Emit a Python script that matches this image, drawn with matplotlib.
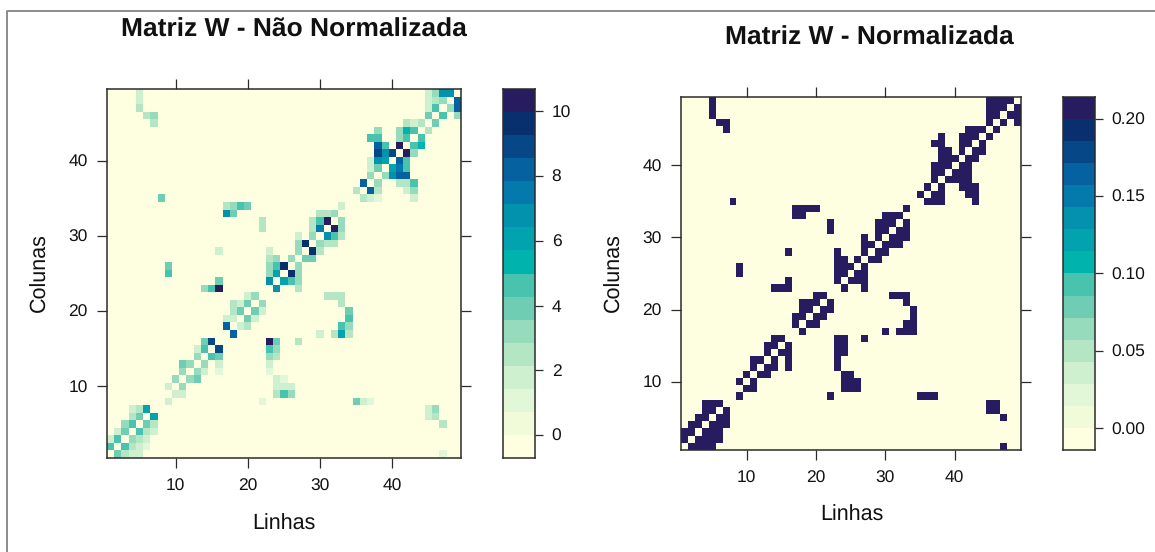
"""
Matriz W (vizinhos mais proximos) nao normalizada e normalizada
"""

import numpy as np
import matplotlib
matplotlib.use("Agg")
import matplotlib.pyplot as plt
from matplotlib.colors import ListedColormap, BoundaryNorm
from matplotlib.lines import Line2D

plt.rcParams["font.family"] = ["Liberation Sans", "DejaVu Sans"]
plt.rcParams["text.hinting"] = "none"

linhas = list(range(49, 0, -1))

colunas = [
    [5, 45, 46, 47, 48], [5, 45, 46, 47, 49], [5, 45, 46, 48, 49],
    [6, 7, 45, 47, 49], [7, 42, 43, 44, 46], [38, 41, 42, 43, 45],
    [37, 38, 41, 42, 44], [38, 39, 41, 43, 44], [38, 39, 40, 42, 43],
    [37, 38, 39, 41, 42], [37, 38, 40, 41, 42], [37, 39, 40, 41, 42],
    [36, 38, 41, 42, 43], [35, 37, 38, 42, 43], [8, 36, 37, 38, 43],
    [17, 18, 19, 20, 33], [17, 18, 30, 31, 32], [22, 29, 30, 31, 33],
    [22, 29, 30, 32, 33], [27, 29, 31, 32, 33], [27, 28, 30, 31, 32],
    [16, 23, 27, 29, 30], [23, 24, 26, 28, 29], [9, 23, 24, 25, 27],
    [9, 23, 24, 26, 27], [16, 23, 25, 26, 27], [14, 15, 16, 24, 27],
    [20, 21, 31, 32, 33], [18, 19, 20, 22, 33], [18, 19, 21, 22, 34],
    [17, 18, 20, 21, 34], [17, 19, 20, 33, 34], [18, 30, 32, 33, 34],
    [14, 15, 23, 24, 27], [13, 14, 16, 23, 24], [13, 15, 16, 23, 24],
    [11, 12, 14, 16, 23], [11, 13, 14, 16, 23], [10, 12, 13, 24, 25],
    [9, 11, 24, 25, 26], [10, 11, 24, 25, 26], [9, 22, 35, 36, 37],
    [4, 5, 6, 45, 46], [4, 5, 7, 45, 46], [3, 4, 6, 7, 47],
    [2, 3, 5, 6, 7], [1, 2, 4, 5, 6], [1, 3, 4, 5, 6], [2, 3, 4, 5, 47],
]

pesos = [
    [2, 1.8, 3, 7, 7], [2, 1.8, 2.5, 3, 8], [2.7, 1.8, 4.7, 3, 8],
    [2.5, 3, 4, 4.7, 3], [2.5, 2.5, 2, 2.7, 4], [3.5, 3, 5.5, 4.7, 2.5],
    [4.7, 4.7, 3, 4.7, 4.7], [8, 4.5, 10, 4.7, 5.5], [9, 7, 9, 10, 3],
    [1.8, 7, 6, 8, 4.7], [1.8, 4, 6, 7.5, 4.7], [3, 3.5, 6.5, 8.5, 8.5],
    [8, 3, 2.5, 2.5, 4.7], [2.5, 8, 2.5, 1.5, 3], [4, 2.5, 2, 1.3, 2],
    [2.5, 3, 4.5, 4, 2], [6.5, 4, 2.5, 2.5, 3], [2.3, 2.5, 4.7, 10, 3],
    [2.5, 2.5, 7.5, 10, 3], [2, 3.5, 7, 4.7, 2.5], [3.5, 9.5, 3, 2.5, 2.5],
    [2, 2, 3.5, 9.5, 2.5], [2.5, 3, 3.5, 4, 4], [4, 3, 4.7, 9.5, 3],
    [4.5, 3, 6, 9.5, 3.5], [4, 6.5, 6, 4.7, 3.5], [3, 4.7, 11, 6.5, 2.5],
    [2, 3, 2.5, 2.5, 2.5], [2.5, 2, 4, 3, 2.5], [2.5, 4, 4, 2, 4],
    [2, 2, 4, 2, 4.7], [8, 2, 2.5, 4.7, 3], [8, 1.8, 2.5, 6, 2.5],
    [4, 9, 11, 4, 2.5], [2, 4.7, 9, 4.7, 3], [3, 4.7, 4, 3, 2.5],
    [4, 3, 3, 1.8, 1.7], [3, 3, 2, 1, 1.2], [3, 3.5, 4, 1.5, 1.2],
    [2, 3, 1.7, 1.7, 1.7], [2, 2, 2.5, 4.7, 3.5], [1.5, 1, 4, 2, 1],
    [1.8, 2.3, 6, 2, 3], [2.5, 3.8, 6, 1.6, 2.3], [3, 4.7, 4, 2.5, 2.8],
    [2, 3.8, 4.7, 2.5, 2], [2, 4.7, 3.5, 2.5, 1.5], [4.5, 4.5, 2.8, 1.8, 1.2],
    [4, 2.5, 2, 1.5, 1],
]

peso_normalizado = 0.2

cores = ["#FDFFE0", "#F1FBDA", "#E2F6D8", "#CEF0CF", "#B4E6C3", "#96DCBC",
         "#6ECDB3", "#47C3AE", "#00B3AD", "#02A3AE", "#0392AE", "#0479AC",
         "#0661A0", "#064787", "#08306F", "#281C60"]

ticks_matriz = [10, 20, 30, 40]
ticks_barra_w = [0, 2, 4, 6, 8, 10]
ticks_barra_n = [0.00, 0.05, 0.10, 0.15, 0.20]

LARG, ALT = 1155, 552
COR_EIXO = "#2b2b2b"


def eixo_px(fig, x0, y0, x1, y1):
    """Cria um eixo a partir da caixa em pixels da imagem."""
    return fig.add_axes([x0 / LARG, 1 - y1 / ALT, (x1 - x0) / LARG, (y1 - y0) / ALT])


def estilo(ax):
    for spine in ax.spines.values():
        spine.set_color(COR_EIXO)
        spine.set_linewidth(1.1)


def painel(fig, matriz, limites, caixa, caixa_barra, ticks_barra, formato):
    cmap = ListedColormap(cores)
    norm = BoundaryNorm(limites, cmap.N)

    ax = eixo_px(fig, *caixa)
    ax.imshow(matriz, origin="lower", cmap=cmap, norm=norm, aspect="auto",
              interpolation="nearest", extent=(0.5, 49.5, 0.5, 49.5))
    ax.set_xticks(ticks_matriz)
    ax.set_yticks(ticks_matriz)
    ax.tick_params(top=True, right=True, length=7, width=0.9, color=COR_EIXO,
                   labelsize=12.5, pad=7, labelcolor="#111111")
    ax.tick_params(axis="x", pad=8)
    estilo(ax)

    cax = eixo_px(fig, *caixa_barra)
    niveis = np.array(limites)
    cax.pcolormesh([0, 1], niveis, np.arange(16).reshape(-1, 1), cmap=cmap,
                   vmin=-0.5, vmax=15.5)
    cax.set_xticks([])
    cax.yaxis.tick_right()
    cax.set_yticks(ticks_barra)
    cax.set_yticklabels([formato % t for t in ticks_barra])
    cax.tick_params(axis="y", length=6, width=0.9, color=COR_EIXO,
                    labelsize=12.5, pad=6, labelcolor="#111111")
    estilo(cax)
    return ax


w = np.zeros((49, 49))
w_norm = np.zeros((49, 49))
for linha, cols, vals in zip(linhas, colunas, pesos):
    for coluna, valor in zip(cols, vals):
        w[linha - 1, coluna - 1] = valor
        w_norm[linha - 1, coluna - 1] = peso_normalizado

fig = plt.figure(figsize=(LARG / 100, ALT / 100), dpi=100)

# moldura cinza do print original
fig.add_artist(Line2D([6.5 / LARG, 6.5 / LARG, 1], [0, 1 - 10.5 / ALT, 1 - 10.5 / ALT],
                      color="#8c8c8c", lw=1.4))

painel(fig, w, np.linspace(-0.71, 10.69, 17), (107, 89, 461, 458),
       (503, 89, 535, 458), ticks_barra_w, "%d")
painel(fig, w_norm, np.linspace(-0.014, 0.2139, 17), (681, 97, 1020.5, 450),
       (1063, 97, 1095, 450), ticks_barra_n, "%.2f")

# titulos e rotulos
fig.text(294 / LARG, 1 - 30 / ALT, "Matriz W - Não Normalizada", ha="center",
         va="center", fontsize=19, fontweight="bold", color="#111111")
fig.text(869 / LARG, 1 - 38 / ALT, "Matriz W - Normalizada", ha="center",
         va="center", fontsize=19, fontweight="bold", color="#111111")
fig.text(284 / LARG, 1 - 524 / ALT, "Linhas", ha="center", va="center", fontsize=15.5, color="#111111")
fig.text(852 / LARG, 1 - 515 / ALT, "Linhas", ha="center", va="center", fontsize=15.5, color="#111111")
fig.text(40 / LARG, 1 - 273 / ALT, "Colunas", ha="center", va="center", rotation=90,
         fontsize=15.5, color="#111111")
fig.text(614 / LARG, 1 - 273 / ALT, "Colunas", ha="center", va="center", rotation=90,
         fontsize=15.5, color="#111111")

fig.savefig("out.png", dpi=100)
